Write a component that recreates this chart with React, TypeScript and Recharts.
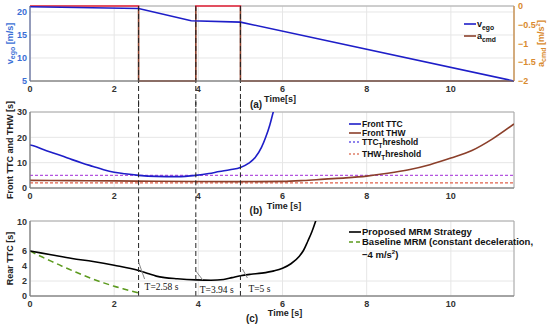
import React from "react";
import {
  CartesianGrid,
  Legend,
  Line,
  LineChart,
  ReferenceArea,
  ReferenceDot,
  ReferenceLine,
  XAxis,
  YAxis,
} from "recharts";

// shared time axis
const timeTicks = [0, 2, 4, 6, 8, 10];
const timeMax = 11.5;
const eventTimes = [2.58, 3.94, 5];
const eventLabels = ["T=2.58 s", "T=3.94 s", "T=5 s"];

// (a) ego speed and commanded acceleration
const vegoTime = [0, 2.58, 3.83, 5, 11.5];
const vegoValue = [21.15, 20.75, 18.1, 17.8, 5];
const acmdTime = [0, 2.58, 2.58, 3.94, 3.94, 5, 5, 11.5];
const acmdValue = [0, 0, -2, -2, 0, 0, -2, -2];
const vegoTicks = [5, 10, 15, 20];
const acmdTicks = [-2, -1.5, -1, -0.5, 0];

// (b) front TTC / THW
const ttcTime = [0, 0.1, 0.3, 0.5, 0.75, 1, 1.25, 1.5, 1.75, 2, 2.25, 2.58, 3, 3.5, 3.94, 4.25, 4.5, 4.75, 5, 5.2, 5.35, 5.5, 5.6, 5.7, 5.78, 5.85];
const ttcValue = [17, 16.6, 15.3, 14.1, 12.7, 11.2, 9.8, 8.5, 7.2, 6.2, 5.6, 5.0, 4.6, 4.5, 5.0, 5.7, 6.5, 7.2, 8.1, 9.8, 12, 16, 20, 25, 30, 34];
const thwTime = [0, 1, 2, 3, 4, 5, 6, 6.5, 7, 7.5, 8, 8.5, 9, 9.5, 10, 10.5, 11, 11.5];
const thwValue = [3.0, 2.9, 2.8, 2.65, 2.55, 2.5, 2.6, 2.95, 3.5, 4.0, 4.7, 5.8, 7.2, 9.2, 11.8, 14.8, 19.5, 25.3];
const ttcThreshold = 5;
const thwThreshold = 2;
const frontTicks = [0, 5, 10, 15, 20, 25, 30];

// (c) rear TTC
const rearTime = [0, 0.5, 1, 1.5, 2, 2.58, 2.8, 3.0, 3.2, 3.5, 3.94, 4.3, 4.6, 4.8, 5.0, 5.25, 5.5, 5.8, 6.0, 6.2, 6.4, 6.5, 6.6, 6.7, 6.8, 6.9];
const rearValue = [6.0, 5.5, 5.0, 4.6, 4.1, 3.4, 3.0, 2.65, 2.45, 2.3, 2.15, 2.1, 2.2, 2.45, 2.7, 2.9, 3.05, 3.35, 3.7, 4.3, 5.3, 6.1, 7.3, 8.6, 10.2, 12];
const baseTime = [0, 0.25, 0.5, 0.75, 1, 1.25, 1.5, 1.75, 2, 2.25, 2.58];
const baseValue = [6.0, 5.3, 4.65, 4.0, 3.4, 2.8, 2.25, 1.75, 1.3, 0.9, 0.4];
const rearTicks = [0, 2, 4, 6, 8, 10];

const zip = (ts: number[], vs: number[]) => ts.map((t, i) => ({ t, v: vs[i] }));

const FONT = "'Liberation Sans', Arial, sans-serif";
const SERIF = "'Liberation Serif', 'Times New Roman', serif";
const GRID = "#e6e6e6";
const FRAME = "#a8a8a8";
const AXIS = "#7a7a7a";
const BLUE = "#1e1ec8";
const BROWN = "#8b3f2a";
const TICK_BLUE = "#3b6fd6";
const ORANGE = "#d98a2e";

const tickStyle = { fontFamily: FONT, fontSize: 9, fontWeight: 700, fill: "#333" };
const minus = (v: number) => String(v).replace("-", "\u2212");

const timeAxisProps = {
  type: "number" as const,
  dataKey: "t",
  domain: [0, timeMax],
  ticks: timeTicks,
  allowDataOverflow: true,
  tickSize: 0,
  tickMargin: 5,
  height: 29,
  axisLine: { stroke: AXIS },
  tickLine: false,
  tick: tickStyle,
};

// x title + panel tag, placed relative to the axis box
function xTitle(title: string, tag: string, tdx: number, tdy: number, gdx: number, gdy: number) {
  return {
    content: (p: any) => {
      const { x, y, width } = p.viewBox;
      const cx = x + width / 2;
      return (
        <g fontFamily={FONT} fontWeight={700} fill="#222">
          <text x={cx + tdx} y={y + tdy} fontSize={9} textAnchor="middle">{title}</text>
          <text x={cx + gdx} y={y + gdy} fontSize={10} textAnchor="middle">{tag}</text>
        </g>
      );
    },
  };
}

function yTitle(body: React.ReactNode, dx: number, color: string) {
  return {
    content: (p: any) => {
      const { x, y, height } = p.viewBox;
      const cx = x + dx;
      const cy = y + height / 2;
      return (
        <text
          x={cx}
          y={cy}
          transform={`rotate(-90 ${cx} ${cy})`}
          textAnchor="middle"
          dominantBaseline="central"
          fontFamily={FONT}
          fontWeight={700}
          fontSize={9}
          fill={color}
        >
          {body}
        </text>
      );
    },
  };
}

interface LegendItem {
  label: React.ReactNode;
  color: string;
  dash?: string;
  h: number;
}

function LegendBox({ items, fontSize }: { items: LegendItem[]; fontSize: number }) {
  return (
    <div style={{ fontFamily: FONT, fontWeight: 700, fontSize, color: "#111" }}>
      {items.map((it, i) => (
        <div key={i} style={{ display: "flex", alignItems: "flex-start", height: it.h }}>
          <svg width={13} height={10} style={{ flex: "none" }}>
            <line x1={0} x2={12} y1={5} y2={5} stroke={it.color} strokeWidth={1.6} strokeDasharray={it.dash} />
          </svg>
          <div style={{ lineHeight: "10px", whiteSpace: "nowrap" }}>{it.label}</div>
        </div>
      ))}
    </div>
  );
}

const Sub = ({ children }: { children: React.ReactNode }) => (
  <span style={{ fontSize: "0.75em", position: "relative", top: 3 }}>{children}</span>
);

const eventLine = (t: number, y1: number, y2: number, yAxisId: string | number = 0) => (
  <ReferenceLine
    key={t}
    yAxisId={yAxisId}
    segment={[{ x: t, y: y1 }, { x: t, y: y2 }]}
    ifOverflow="visible"
    stroke="#222"
    strokeWidth={1}
    strokeDasharray="5 3"
  />
);

// leader line + text offsets for the rear TTC annotations (px, relative to (t, 0))
const annOffsets = [
  { l: [0, -34, 6, -17], tx: 6, ty: -6 },
  { l: [0, -25, 7, -16], tx: 4, ty: -3 },
  { l: [2, -27, 7, -18], tx: 8, ty: -4 },
];

function PanelA() {
  return (
    <LineChart width={550} height={110} margin={{ top: 6, right: 0, bottom: 0, left: 0 }}>
      <defs>
        <linearGradient id="acmdGrad" x1="0" y1="0" x2="0" y2="1">
          <stop offset="0" stopColor="#e8263c" />
          <stop offset="0.03" stopColor="#e8263c" />
          <stop offset="0.03" stopColor={BROWN} />
          <stop offset="1" stopColor={BROWN} />
        </linearGradient>
      </defs>
      <CartesianGrid yAxisId="v" stroke={GRID} />
      <XAxis {...timeAxisProps} label={xTitle("Time[s]", "(a)", 8, 21, -16, 27)} />
      <YAxis
        yAxisId="v"
        type="number"
        domain={[5, 21.3]}
        ticks={vegoTicks}
        width={30}
        tickSize={0}
        tickMargin={3}
        tickLine={false}
        axisLine={{ stroke: "#5a6aa8" }}
        tick={{ ...tickStyle, fill: TICK_BLUE }}
        label={yTitle(<><tspan>v</tspan><tspan fontSize={7} dy={2}>ego</tspan><tspan dy={-2}> [m/s]</tspan></>, 10, TICK_BLUE)}
      />
      <YAxis
        yAxisId="a"
        orientation="right"
        type="number"
        domain={[-2, 0]}
        ticks={acmdTicks}
        width={36}
        tickSize={0}
        tickMargin={4}
        tickLine={false}
        axisLine={{ stroke: ORANGE }}
        tick={{ ...tickStyle, fill: ORANGE }}
        tickFormatter={minus}
        label={yTitle(<><tspan>a</tspan><tspan fontSize={7} dy={2}>cmd</tspan><tspan dy={-2}> [m/s</tspan><tspan fontSize={6} dy={-3}>2</tspan><tspan dy={3}>]</tspan></>, 27, ORANGE)}
      />
      <ReferenceArea yAxisId="v" x1={0} x2={timeMax} y1={5} y2={21.3} fill="none" stroke={FRAME} />
      <Line yAxisId="a" data={zip(acmdTime, acmdValue)} dataKey="v" type="linear" stroke="url(#acmdGrad)" strokeWidth={1.6} dot={false} isAnimationActive={false} />
      <Line yAxisId="v" data={zip(vegoTime, vegoValue)} dataKey="v" type="linear" stroke={BLUE} strokeWidth={1.6} dot={false} isAnimationActive={false} />
      {eventTimes.map((t) => eventLine(t, 21.3, -20, "v"))}
      <Legend
        layout="vertical"
        align="center"
        verticalAlign="middle"
        wrapperStyle={{ left: 464, top: 19, width: "auto" }}
        content={() => (
          <LegendBox
            fontSize={9}
            items={[
              { label: <>v<Sub>ego</Sub></>, color: BLUE, h: 12 },
              { label: <>a<Sub>cmd</Sub></>, color: BROWN, h: 12 },
            ]}
          />
        )}
      />
    </LineChart>
  );
}

// panel (b) svg starts 10px above its plot box so the long y title fits
function PanelB() {
  return (
    <LineChart width={550} height={117} margin={{ top: 12, right: 36, bottom: 0, left: 0 }}>
      <CartesianGrid stroke={GRID} />
      <XAxis {...timeAxisProps} label={xTitle("Time [s]", "(b)", 12, 21, -16, 26)} />
      <YAxis
        type="number"
        domain={[0, 30]}
        ticks={frontTicks}
        allowDataOverflow
        width={30}
        tickSize={0}
        tickMargin={3}
        tickLine={false}
        axisLine={{ stroke: AXIS }}
        tick={tickStyle}
        label={yTitle("Front TTC and THW [s]", 10, "#222")}
      />
      <ReferenceArea x1={0} x2={timeMax} y1={0} y2={30} fill="none" stroke={FRAME} />
      <ReferenceLine y={ttcThreshold} stroke="#b455e0" strokeDasharray="3 2" strokeWidth={1.2} />
      <ReferenceLine y={thwThreshold} stroke="#e0604a" strokeDasharray="3 2" strokeWidth={1.2} />
      <Line data={zip(thwTime, thwValue)} dataKey="v" type="monotone" stroke={BROWN} strokeWidth={1.6} dot={false} isAnimationActive={false} />
      <Line data={zip(ttcTime, ttcValue)} dataKey="v" type="monotone" stroke={BLUE} strokeWidth={1.6} dot={false} isAnimationActive={false} />
      {eventTimes.map((t) => eventLine(t, -40, 40))}
      <Legend
        layout="vertical"
        align="center"
        verticalAlign="middle"
        wrapperStyle={{ left: 349, top: 19, width: "auto" }}
        content={() => (
          <LegendBox
            fontSize={8.5}
            items={[
              { label: "Front TTC", color: BLUE, h: 9 },
              { label: "Front THW", color: BROWN, h: 9 },
              { label: <>TTC<Sub>T</Sub>hreshold</>, color: "#6a5ae8", dash: "2 2", h: 12 },
              { label: <>THW<Sub>T</Sub>hreshold</>, color: "#e0806a", dash: "2 2", h: 12 },
            ]}
          />
        )}
      />
    </LineChart>
  );
}

function PanelC() {
  return (
    <LineChart width={550} height={108} margin={{ top: 4, right: 36, bottom: 0, left: 0 }}>
      <CartesianGrid stroke={GRID} />
      <XAxis {...timeAxisProps} label={xTitle("Time [s]", "(c)", 13, 20, -20, 26)} />
      <YAxis
        type="number"
        domain={[0, 10]}
        ticks={rearTicks}
        allowDataOverflow
        width={30}
        tickSize={0}
        tickMargin={3}
        tickLine={false}
        axisLine={{ stroke: AXIS }}
        tick={tickStyle}
        label={yTitle("Rear TTC [s]", 10, "#222")}
      />
      <ReferenceArea x1={0} x2={timeMax} y1={0} y2={10} fill="none" stroke={FRAME} />
      <Line data={zip(baseTime, baseValue)} dataKey="v" type="monotone" stroke="#5c9a1e" strokeWidth={1.5} strokeDasharray="6 4" dot={false} isAnimationActive={false} />
      <Line data={zip(rearTime, rearValue)} dataKey="v" type="monotone" stroke="#000" strokeWidth={1.6} dot={false} isAnimationActive={false} />
      {eventTimes.map((t) => eventLine(t, 0, 20))}
      {eventTimes.map((t, i) => (
        <ReferenceDot
          key={"ann" + t}
          x={t}
          y={0}
          r={0}
          fill="none"
          stroke="none"
          label={{
            content: (p: any) => {
              const { x, y } = p.viewBox;
              const o = annOffsets[i];
              return (
                <g>
                  <line x1={x + o.l[0]} y1={y + o.l[1]} x2={x + o.l[2]} y2={y + o.l[3]} stroke="#888" strokeWidth={1} />
                  <text x={x + o.tx} y={y + o.ty} fontFamily={SERIF} fontSize={9.5} fill="#111">{eventLabels[i]}</text>
                </g>
              );
            },
          }}
        />
      ))}
      <Legend
        layout="vertical"
        align="center"
        verticalAlign="middle"
        wrapperStyle={{ left: 349, top: 10, width: "auto" }}
        content={() => (
          <LegendBox
            fontSize={9.5}
            items={[
              { label: "Proposed MRM Strategy", color: "#000", h: 10 },
              {
                label: <>Baseline MRM (constant deceleration,<br />{"\u22124 m/s"}<sup style={{ fontSize: 6 }}>2</sup>)</>,
                color: "#5c9a1e",
                dash: "4 3",
                h: 20,
              },
            ]}
          />
        )}
      />
    </LineChart>
  );
}

export default function App() {
  return (
    <div style={{ position: "absolute", left: 0, top: 0, width: 550, height: 325, background: "#fff", overflow: "hidden" }}>
      <div style={{ position: "absolute", left: 0, top: 0 }}>
        <PanelA />
      </div>
      <div style={{ position: "absolute", left: 0, top: 100 }}>
        <PanelB />
      </div>
      <div style={{ position: "absolute", left: 0, top: 217 }}>
        <PanelC />
      </div>
    </div>
  );
}
